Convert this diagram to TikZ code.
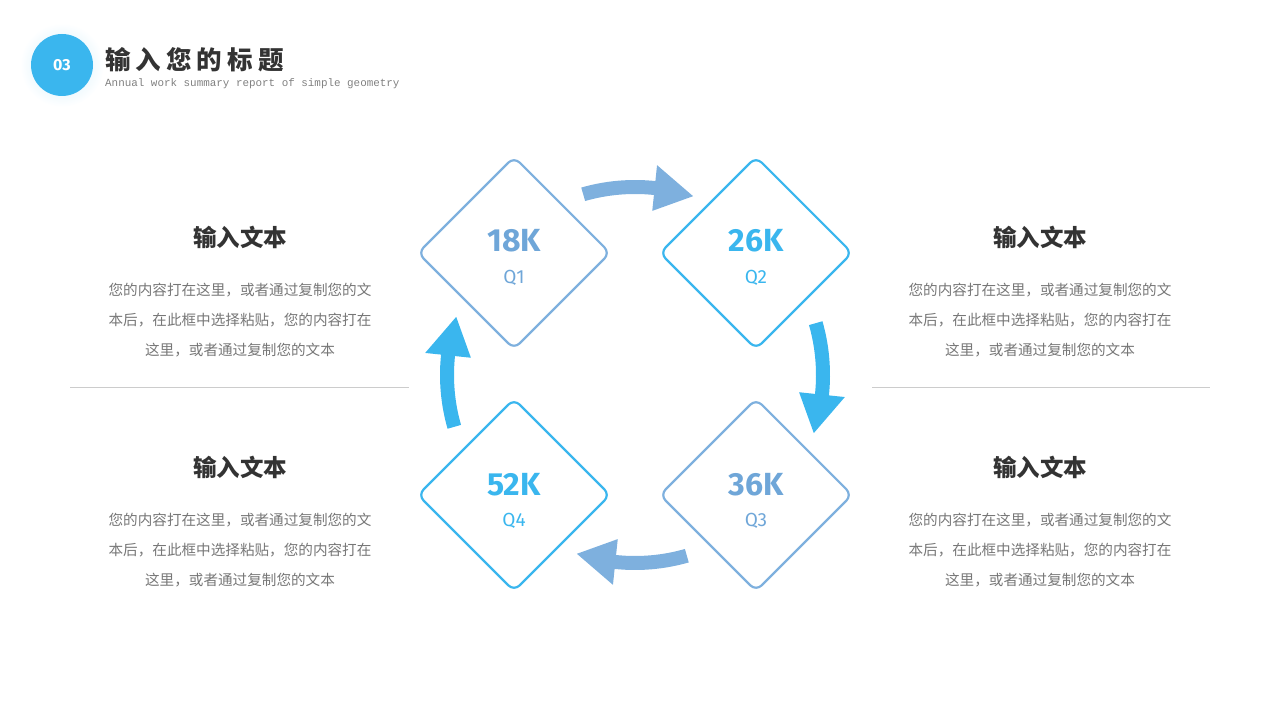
\documentclass[tikz,border=0pt]{standalone}
\usepackage{fontspec}
\setmainfont{Noto Sans CJK SC}
\newfontfamily\titlefont[LetterSpace=20]{Noto Sans CJK SC}
\newfontfamily\numfont{Fira Sans}
\newfontfamily\subfont{Liberation Mono}
\usetikzlibrary{shapes.geometric}

\definecolor{bright}{HTML}{3AB6EE}
\definecolor{muted}{HTML}{7EB0DE}
\definecolor{mutedtxt}{HTML}{6FA6D8}
\definecolor{headtxt}{HTML}{333333}
\definecolor{bodytxt}{HTML}{777777}
\definecolor{rulegray}{HTML}{CCCCCC}

\tikzset{
  pics/bandarrow/.style={code={
    \path[pic actions] (106:181) arc[start angle=106, end angle=84, radius=181]
      -- (84:165) -- (72:188) -- (84:211) -- (84:195)
      arc[start angle=84, end angle=106, radius=195] -- cycle;
  }}
}

\begin{document}
\begin{tikzpicture}[x=1pt, y=1pt,
    quarter/.style={draw, shape=diamond, aspect=1, minimum width=193pt,
                    minimum height=193pt, inner sep=0pt, rounded corners=8pt, line width=2.2pt},
    num/.style={font=\numfont\bfseries\fontsize{32}{32}\selectfont},
    qlabel/.style={font=\numfont\fontsize{19}{19}\selectfont},
    heading/.style={font=\bfseries\fontsize{23.5}{24}\selectfont, text=headtxt},
    body/.style={font=\fontsize{14.6}{30}\selectfont, text=bodytxt, align=center},
    sepline/.style={draw=rulegray, line width=0.8pt}]

\useasboundingbox (0,0) rectangle (1280,720);

% header
\shade[inner color=bright!25, outer color=white] (62,655) circle (42);
\node[circle, fill=bright, minimum size=62pt, inner sep=0pt, text=white,
      font=\numfont\bfseries\fontsize{16}{16}\selectfont] (badge) at (62,655) {03};
\node[anchor=west, inner sep=0pt, text=headtxt,
      font=\titlefont\bfseries\fontsize{25.5}{26}\selectfont] (title) at (105,660) {输入您的标题};
\node[anchor=west, inner sep=0pt, text=gray,
      font=\subfont\fontsize{10.9}{11}\selectfont] (subtitle) at (105,636)
      {Annual work summary report of simple geometry};

% diamonds
\coordinate (ctr) at (635,345);
\node[quarter, draw=muted]  (q1) at (514,467) {};
\node[quarter, draw=bright] (q2) at (756,467) {};
\node[quarter, draw=muted]  (q3) at (756,225) {};
\node[quarter, draw=bright] (q4) at (514,225) {};

\node[num, text=mutedtxt] (v1) at ([yshift=12]q1.center) {18K};
\node[qlabel, text=mutedtxt] (l1) at ([yshift=-25]q1.center) {Q1};
\node[num, text=bright] (v2) at ([yshift=12]q2.center) {26K};
\node[qlabel, text=bright] (l2) at ([yshift=-25]q2.center) {Q2};
\node[num, text=mutedtxt] (v3) at ([yshift=10]q3.center) {36K};
\node[qlabel, text=mutedtxt] (l3) at ([yshift=-26]q3.center) {Q3};
\node[num, text=bright] (v4) at ([yshift=10]q4.center) {52K};
\node[qlabel, text=bright] (l4) at ([yshift=-26]q4.center) {Q4};

% arrows round the cycle
\pic[fill=muted] at (ctr) {bandarrow};
\pic[fill=bright, rotate=-90] at (ctr) {bandarrow};
\pic[fill=muted, rotate=-180] at (ctr) {bandarrow};
\pic[fill=bright, rotate=90] at (ctr) {bandarrow};

% side texts
\node[heading] (h1) at (240,483) {输入文本};
\node[body] (b1) at (240,400) {您的内容打在这里，或者通过复制您的文\\本后，在此框中选择粘贴，您的内容打在\\这里，或者通过复制您的文本};
\node[heading] (h2) at (1040,483) {输入文本};
\node[body] (b2) at (1040,400) {您的内容打在这里，或者通过复制您的文\\本后，在此框中选择粘贴，您的内容打在\\这里，或者通过复制您的文本};
\node[heading] (h3) at (240,253) {输入文本};
\node[body] (b3) at (240,170) {您的内容打在这里，或者通过复制您的文\\本后，在此框中选择粘贴，您的内容打在\\这里，或者通过复制您的文本};
\node[heading] (h4) at (1040,253) {输入文本};
\node[body] (b4) at (1040,170) {您的内容打在这里，或者通过复制您的文\\本后，在此框中选择粘贴，您的内容打在\\这里，或者通过复制您的文本};

\coordinate (s1a) at (70,333);
\coordinate (s1b) at (409,333);
\coordinate (s2a) at (872,333);
\coordinate (s2b) at (1210,333);
\draw[sepline] (s1a) -- (s1b);
\draw[sepline] (s2a) -- (s2b);

\end{tikzpicture}
\end{document}
